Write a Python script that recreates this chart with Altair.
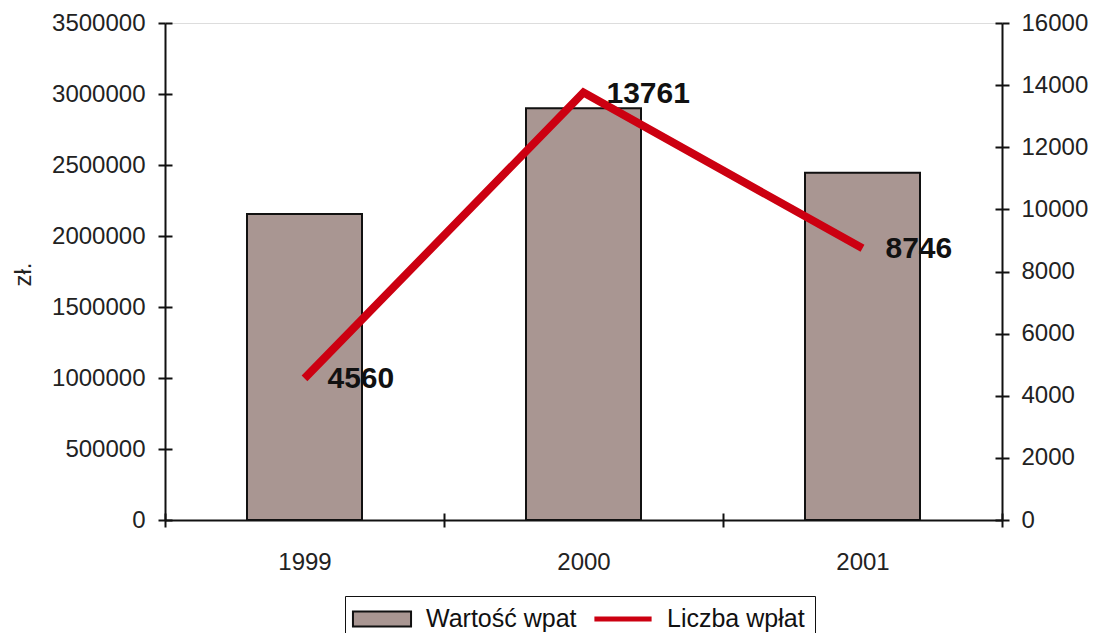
import altair as alt
import pandas as pd

years = ["1999", "2000", "2001"]
wartosc = [2155000, 2900000, 2445000]
liczba = [4560, 13761, 8746]
series_names = ["Wartość wpat", "Liczba wpłat"]
series_colors = ["#a99692", "#cc0011"]
left_ticks = list(range(0, 3500001, 500000))
right_ticks = list(range(0, 16001, 2000))

FONT = "Liberation Sans"
RED = "#cc0011"
INK = "#111111"

bars_df = pd.DataFrame({"rok": years, "wartosc": wartosc, "series": series_names[0]})
line_df = pd.DataFrame({"rok": years, "liczba": liczba, "series": series_names[1]})

x_scale = alt.Scale(paddingInner=0, paddingOuter=0)
left_scale = alt.Scale(domain=[0, 3500000], nice=False)
right_scale = alt.Scale(domain=[0, 16000], nice=False)

tick_style = dict(tickSize=7, tickWidth=2, tickColor=INK, grid=False)

x_main = alt.X(
    "rok:N", scale=x_scale,
    axis=alt.Axis(
        title=None, labelAngle=0, tickBand="extent", labelPadding=23,
        domainWidth=2, domainColor=INK,
        labelFontSize=24, labelFont=FONT, labelColor="#222", **tick_style,
    ),
)
x_inner = alt.X(
    "rok:N", scale=x_scale,
    axis=alt.Axis(
        title=None, orient="top", offset=-497, tickBand="extent",
        labels=False, domain=False, **tick_style,
    ),
)
x_none = alt.X("rok:N", scale=x_scale, axis=None)

is_line = "datum.value === 'Liczba wpłat'"
color_enc = alt.Color(
    "series:N",
    scale=alt.Scale(domain=series_names, range=series_colors),
    legend=alt.Legend(
        title=None, orient="none", direction="horizontal",
        legendX=180, legendY=573, padding=10,
        strokeColor=INK, fillColor="white",
        labelFontSize=25, labelFont=FONT, labelColor=INK,
        symbolOffset=14, labelOffset=31, columnPadding=14, symbolSize=576,
        symbolType=alt.ExprRef(expr=is_line + " ? 'M-2.3,-0.12H2.3V0.12H-2.3Z' : 'M-2.42,-0.63H2.42V0.63H-2.42Z'"),
        symbolStrokeColor=alt.ExprRef(expr=is_line + " ? '" + RED + "' : '" + INK + "'"),
        symbolStrokeWidth=2, symbolOpacity=1,
    ),
)

bars = alt.Chart(bars_df).mark_bar(size=115, stroke=INK, strokeWidth=2, opacity=1).encode(
    x=x_main,
    y=alt.Y(
        "wartosc:Q", scale=left_scale,
        axis=alt.Axis(
            title="zł.", values=left_ticks, format="d",
            domainWidth=2, domainColor=INK, labelPadding=13,
            labelFontSize=24, labelFont=FONT, labelColor="#222",
            titleFontSize=24, titleFont=FONT, titleFontWeight="normal",
            titleColor="#222", titleX=-135, titleY=251, titleAngle=270,
            titleBaseline="alphabetic", titleAlign="center", **tick_style,
        ),
    ),
    color=color_enc,
)

line = alt.Chart(line_df).mark_line(strokeWidth=8, color=RED).encode(
    x=x_none,
    y=alt.Y(
        "liczba:Q", scale=right_scale,
        axis=alt.Axis(
            orient="right", title=None, values=right_ticks, format="d",
            domainWidth=2, domainColor=INK, labelPadding=12,
            labelFontSize=24, labelFont=FONT, labelColor="#222", **tick_style,
        ),
    ),
)

labels = alt.Chart(line_df).mark_text(
    align="left", baseline="middle", dx=23, dy=1,
    fontSize=30, fontWeight="bold", font=FONT, color=INK,
).encode(
    x=x_none,
    y=alt.Y("liczba:Q", scale=right_scale),
    text=alt.Text("liczba:Q", format="d"),
)

# inner halves of the crossing tick marks
inner_left = alt.Chart(bars_df).mark_bar(opacity=0).encode(
    x=x_inner,
    y=alt.Y(
        "wartosc:Q", scale=left_scale,
        axis=alt.Axis(orient="right", offset=-837, title=None, values=left_ticks,
                      labels=False, domain=False, **tick_style),
    ),
)
inner_right = alt.Chart(line_df).mark_line(opacity=0).encode(
    x=x_none,
    y=alt.Y(
        "liczba:Q", scale=right_scale,
        axis=alt.Axis(orient="left", offset=-837, title=None, values=right_ticks,
                      labels=False, domain=False, **tick_style),
    ),
)

chart = alt.layer(
    bars, alt.layer(line, labels), inner_left, inner_right
).resolve_scale(y="independent").resolve_axis(x="independent").properties(
    width=837, height=497,
    padding={"left": 157, "top": 15, "right": 87, "bottom": 113},
    autosize=alt.AutoSizeParams(type="none"),
).configure_view(
    stroke="#999", strokeWidth=1
).configure(background="white")

chart.save("out.html", embed_options={"renderer": "svg", "actions": False})
